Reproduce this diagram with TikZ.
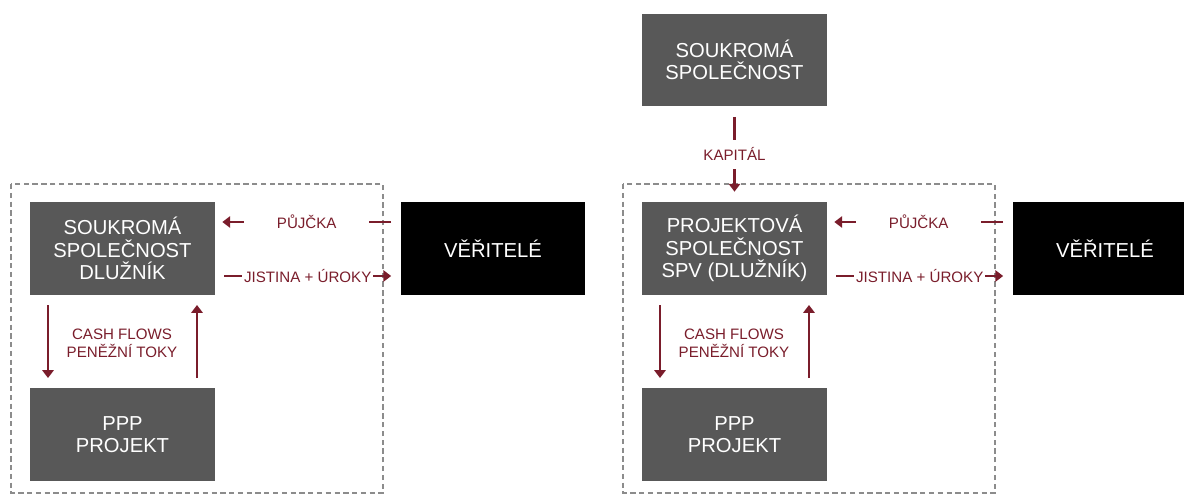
\documentclass[tikz,border=0pt]{standalone}
\usepackage{fontspec}
\setmainfont{Liberation Sans}
\usepackage{tikz}
\usetikzlibrary{arrows.meta}

\definecolor{boxgray}{HTML}{585858}
\definecolor{flowred}{HTML}{7A1D2B}

\begin{document}
\begin{tikzpicture}[x=0.02cm,y=-0.02cm,
    party/.style={fill=boxgray,text=white,minimum width=3.7cm,minimum height=1.86cm,
      inner sep=0pt,align=center,font=\fontsize{11.5}{12.8}\selectfont},
    lender/.style={party,fill=black},
    flow/.style={draw=flowred,line width=1.4pt,-{Triangle[length=4.5pt,width=6.5pt]}},
    flowlabel/.style={text=flowred,fill=white,inner sep=2pt,align=center,
      font=\fontsize{8.6}{10.4}\selectfont},
    frame/.style={draw=gray!90,dash pattern=on 3pt off 2pt,line width=0.7pt}]
   \useasboundingbox (0,0) rectangle (1184,495);

   % left: classic loan
   \begin{scope}
     \draw[frame] (11,184) rectangle (383,493);
     \node[party] (firm) at (122.5,248.5) {SOUKROMÁ\\SPOLEČNOST\\DLUŽNÍK};
     \node[lender] (bank) at (493,248.5) {VĚŘITELÉ};
     \node[party] (proj) at (122.5,434.5) {PPP\\PROJEKT};
     \draw[flow] ([xshift=-0.18cm]bank.west |- 0,222) -- node[flowlabel,minimum width=2.5cm] {PŮJČKA} ([xshift=0.14cm]firm.east |- 0,222);
     \draw[flow] ([xshift=0.18cm]firm.east |- 0,276) -- node[flowlabel,inner xsep=1pt] {JISTINA + ÚROKY} ([xshift=-0.18cm]bank.west |- 0,276);
     \draw[flow] (48,305) -- (48,378);
     \draw[flow] (197,378) -- (197,305);
     \node[flowlabel] (cash) at (122,343) {CASH FLOWS\\PENĚŽNÍ TOKY};
   \end{scope}

   % right: project finance
   \begin{scope}
     \draw[frame] (623,184) rectangle (995,493);
     \node[party] (owner) at (734.5,60) {SOUKROMÁ\\SPOLEČNOST};
     \node[party] (spv) at (734.5,248.5) {PROJEKTOVÁ\\SPOLEČNOST\\SPV (DLUŽNÍK)};
     \node[lender] (banks) at (1105,248.5) {VĚŘITELÉ};
     \node[party] (spvproj) at (734.5,434.5) {PPP\\PROJEKT};
     \draw[flow] ([yshift=-0.2cm]owner.south) -- node[flowlabel,inner ysep=4.5pt] {KAPITÁL} ([yshift=0.2cm]spv.north);
     \draw[flow] ([xshift=-0.18cm]banks.west |- 0,222) -- node[flowlabel,minimum width=2.5cm] {PŮJČKA} ([xshift=0.14cm]spv.east |- 0,222);
     \draw[flow] ([xshift=0.18cm]spv.east |- 0,276) -- node[flowlabel,inner xsep=1pt] {JISTINA + ÚROKY} ([xshift=-0.18cm]banks.west |- 0,276);
     \draw[flow] (660,305) -- (660,378);
     \draw[flow] (809,378) -- (809,305);
     \node[flowlabel] (cash2) at (734,343) {CASH FLOWS\\PENĚŽNÍ TOKY};
   \end{scope}
 \end{tikzpicture}
\end{document}
